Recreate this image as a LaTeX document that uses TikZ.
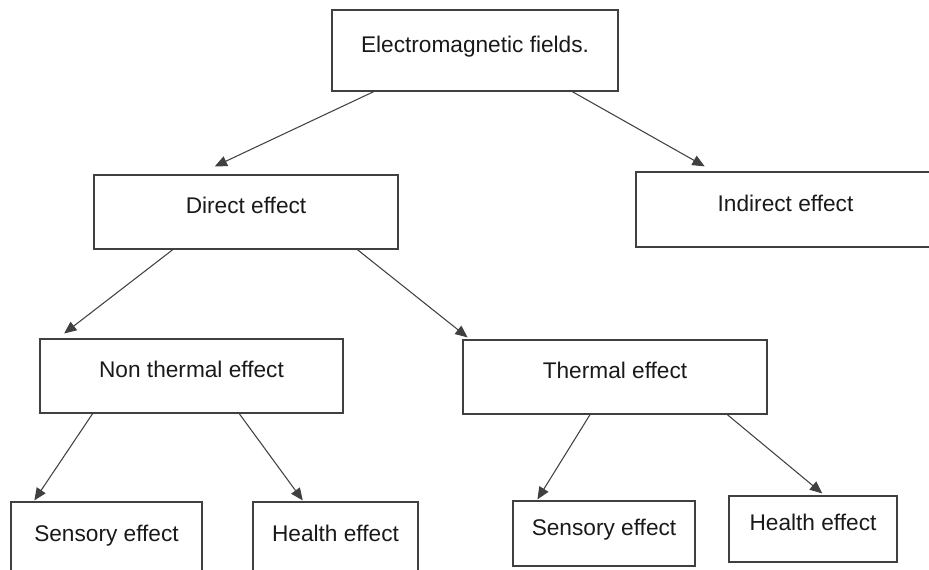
\documentclass[tikz,border=0pt]{standalone}
\usepackage{fontspec}
\setmainfont{Liberation Sans}
\usetikzlibrary{arrows.meta,calc,positioning}

\begin{document}
\begin{tikzpicture}[x=0.02cm,y=-0.02cm,
		box/.style={draw=black!75,line width=0.8pt,text=black!90,inner sep=0pt,
			font=\fontsize{12.9}{15}\selectfont,text height=0.9em,text depth=0.68em},
		freccia/.style={draw=black!75,line width=0.6pt,-{Triangle[length=7pt,width=6pt]}}]
		\def\px{0.02cm}
		\useasboundingbox (0,0) rectangle (929,569);
		\clip (0,0) rectangle (929,569);
		\node[box,minimum width=286*\px,minimum height=81*\px] (emf) at (475,50.5) {Electromagnetic fields.};
		\node[box,minimum width=304*\px,minimum height=74*\px] (direct) at (246,212) {Direct effect};
		\node[box,minimum width=299*\px,minimum height=75*\px] (indirect) at (785.5,209.5) {Indirect effect};
		\node[box,minimum width=303*\px,minimum height=74*\px] (nonthermal) at (191.5,376) {Non thermal effect};
		\node[box,minimum width=304*\px,minimum height=74*\px] (thermal) at (615,377) {Thermal effect};
		\node[box,minimum width=191*\px,minimum height=76*\px] (sensleft) at (106.5,540) {Sensory effect};
		\node[box,minimum width=165*\px,minimum height=76*\px] (healthleft) at (335.5,540) {Health effect};
		\node[box,minimum width=182*\px,minimum height=65*\px] (sensright) at (604,533.5) {Sensory effect};
		\node[box,minimum width=168*\px,minimum height=66*\px] (healthright) at (813,529) {Health effect};
		% collegamenti
		\draw[freccia,shorten >=10.5pt] ($(emf.south west)!.147!(emf.south east)$) -- ($(direct.north west)!.343!(direct.north east)$);
		\draw[freccia,shorten >=5.7pt] ($(emf.south west)!.839!(emf.south east)$) -- ($(indirect.north west)!.26!(indirect.north east)$);
		\draw[freccia,shorten >=4.5pt] ($(direct.south west)!.26!(direct.south east)$) -- ($(nonthermal.north west)!.061!(nonthermal.north east)$);
		\draw[freccia,shorten >=1.7pt] ($(direct.south west)!.865!(direct.south east)$) -- ($(thermal.north west)!.025!(thermal.north east)$);
		\draw[freccia,shorten >=0.6pt] ($(nonthermal.south west)!.175!(nonthermal.south east)$) -- ($(sensleft.north west)!.122!(sensleft.north east)$);
		\draw[freccia,shorten >=0.6pt] ($(nonthermal.south west)!.657!(nonthermal.south east)$) -- ($(healthleft.north west)!.307!(healthleft.north east)$);
		\draw[freccia,shorten >=0.6pt] ($(thermal.south west)!.418!(thermal.south east)$) -- ($(sensright.north west)!.134!(sensright.north east)$);
		\draw[freccia,shorten >=1.7pt] ($(thermal.south west)!.868!(thermal.south east)$) -- ($(healthright.north west)!.568!(healthright.north east)$);
	\end{tikzpicture}
\end{document}
